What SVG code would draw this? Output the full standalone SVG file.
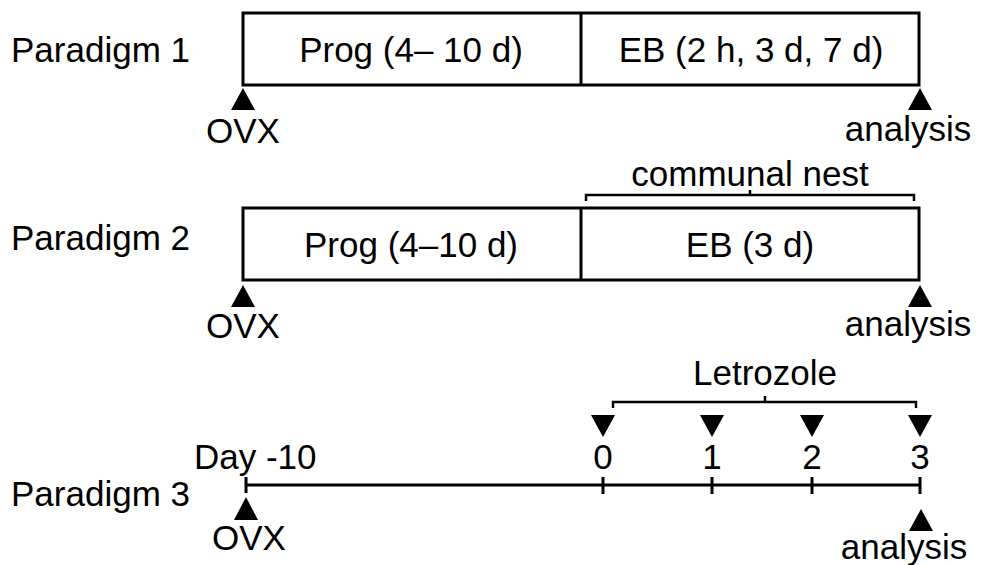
<svg xmlns="http://www.w3.org/2000/svg" width="988" height="565" viewBox="0 0 988 565">
<style>
text{font-family:"Liberation Sans",Arial,sans-serif;font-size:35px;fill:#000}
.m{text-anchor:middle}
.box{fill:#fff;stroke:#000;stroke-width:3}
.ln{fill:none;stroke:#000;stroke-width:3}
.br{fill:none;stroke:#000;stroke-width:2.5}
.tri{fill:#000}
</style>
<rect width="988" height="565" fill="#fff"/>
<g id="labels">
<text x="11" y="62">Paradigm 1</text>
<text x="11" y="250">Paradigm 2</text>
<text x="11" y="506">Paradigm 3</text>
</g>
<g id="p1">
<rect class="box" x="243" y="13" width="676" height="72"/>
<line class="ln" x1="581" y1="13" x2="581" y2="85"/>
<text class="m" x="411" y="62">Prog (4– 10 d)</text>
<text class="m" x="751" y="62">EB (2 h, 3 d, 7 d)</text>
</g>
<g id="p1-ovx">
<polygon class="tri" points="243,88 231,110 255,110"/>
<text class="m" x="243" y="143">OVX</text>
</g>
<g id="p1-analysis">
<polygon class="tri" points="920,88 908,110 932,110"/>
<text class="m" x="908" y="141">analysis</text>
</g>
<g id="p2">
<rect class="box" x="243" y="208" width="676" height="72"/>
<line class="ln" x1="581" y1="208" x2="581" y2="280"/>
<text class="m" x="411" y="257">Prog (4–10 d)</text>
<text class="m" x="750" y="257">EB (3 d)</text>
</g>
<g id="p2-nest">
<path class="br" d="M586,201 V195 H914 V201 M750,195 V190"/>
<text class="m" x="750" y="186">communal nest</text>
</g>
<g id="p2-ovx">
<polygon class="tri" points="243,285 231,307 255,307"/>
<text class="m" x="243" y="338">OVX</text>
</g>
<g id="p2-analysis">
<polygon class="tri" points="920,285 908,307 932,307"/>
<text class="m" x="908" y="336">analysis</text>
</g>
<g id="p3-timeline">
<path class="ln" d="M246,485 H920 M246,477 V493 M603,477 V494 M712,477 V494 M812,477 V494 M920,477 V494"/>
<text x="194" y="469">Day -10</text>
<text class="m" x="603" y="469">0</text>
<text class="m" x="712" y="469">1</text>
<text class="m" x="812" y="469">2</text>
<text class="m" x="920" y="469">3</text>
</g>
<g id="p3-letrozole">
<path class="br" d="M613,408 V402 H916 V408 M765,402 V396"/>
<text class="m" x="765" y="385">Letrozole</text>
<polygon class="tri" points="591,415 615,415 603,437"/>
<polygon class="tri" points="700,415 724,415 712,437"/>
<polygon class="tri" points="800,415 824,415 812,437"/>
<polygon class="tri" points="908,415 932,415 920,437"/>
</g>
<g id="p3-ovx">
<polygon class="tri" points="246,497 234,520 258,520"/>
<text class="m" x="249" y="550">OVX</text>
</g>
<g id="p3-analysis">
<polygon class="tri" points="921,509 909,531 933,531"/>
<text class="m" x="904" y="559">analysis</text>
</g>
</svg>
